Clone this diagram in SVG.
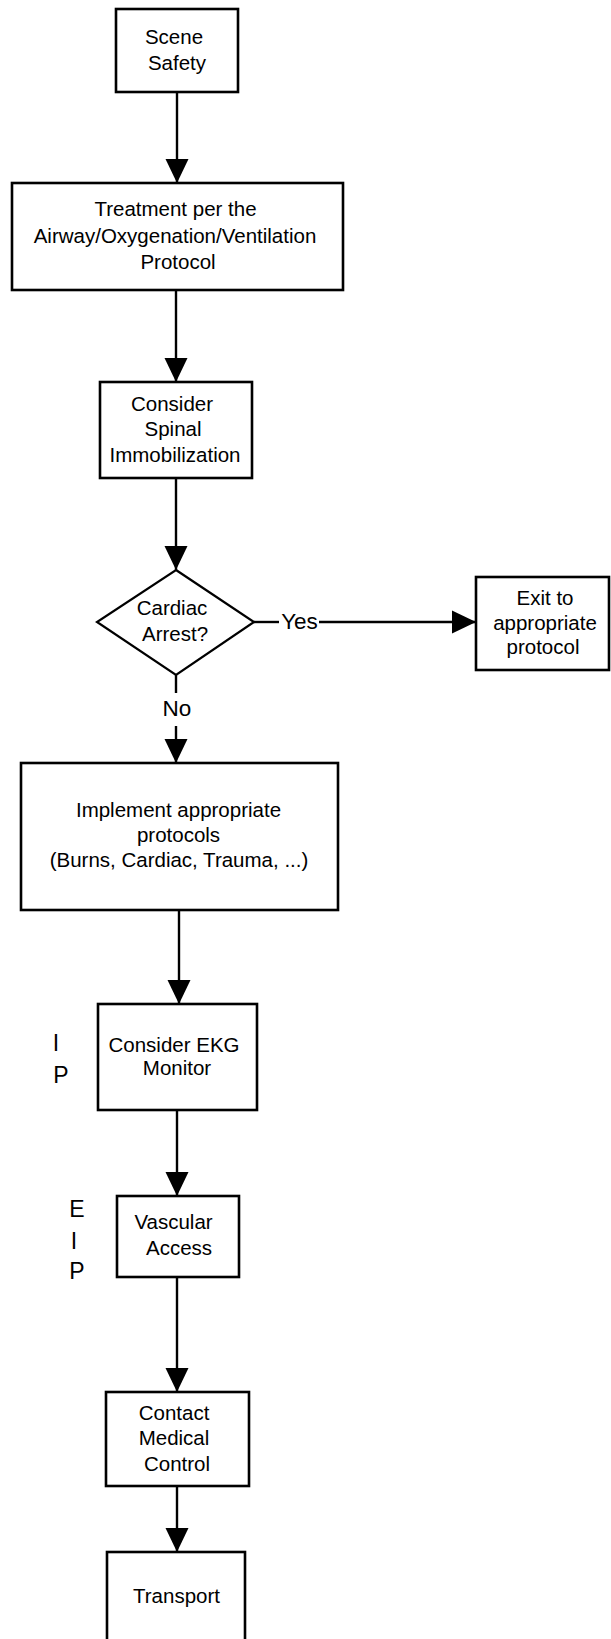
<svg xmlns="http://www.w3.org/2000/svg" width="611" height="1639" viewBox="0 0 611 1639">
  <style>
    .box { fill: #fff; stroke: #000; stroke-width: 2.6; }
    .dia { fill: #fff; stroke: #000; stroke-width: 2.2; }
    .lbl { font-family: "Liberation Sans", Arial, sans-serif; font-size: 20.5px; fill: #000; text-anchor: middle; }
    .tag { font-family: "Liberation Sans", Arial, sans-serif; font-size: 22.5px; fill: #000; text-anchor: middle; }
    .side { font-family: "Liberation Sans", Arial, sans-serif; font-size: 23px; fill: #000; text-anchor: middle; }
    .wire { fill: none; stroke: #000; stroke-width: 2.4; }
  </style>
  <defs>
    <marker id="arrow" viewBox="0 0 24 24" refX="24" refY="12" markerWidth="24" markerHeight="24" markerUnits="userSpaceOnUse" orient="auto">
      <path d="M0,0.5 L24,12 L0,23.5 z" fill="#000"/>
    </marker>
  </defs>
  <rect width="611" height="1639" fill="#fff"/>

  <!-- connectors -->
  <g id="connectors">
    <path class="wire" d="M177,92 V183" marker-end="url(#arrow)"/>
    <path class="wire" d="M176,290 V382" marker-end="url(#arrow)"/>
    <path class="wire" d="M176,478 V570" marker-end="url(#arrow)"/>
    <path class="wire" d="M254,622 H279"/>
    <path class="wire" d="M319,622 H476" marker-end="url(#arrow)"/>
    <text class="tag" x="299.5" y="628.5">Yes</text>
    <path class="wire" d="M176,675 V693"/>
    <path class="wire" d="M176,726 V763" marker-end="url(#arrow)"/>
    <text class="tag" x="177" y="716">No</text>
    <path class="wire" d="M179,910 V1004" marker-end="url(#arrow)"/>
    <path class="wire" d="M177,1110 V1196" marker-end="url(#arrow)"/>
    <path class="wire" d="M177,1277 V1392" marker-end="url(#arrow)"/>
    <path class="wire" d="M177,1486 V1552" marker-end="url(#arrow)"/>
  </g>

  <g id="scene-safety">
    <rect class="box" x="116" y="9" width="122" height="83"/>
    <text class="lbl" x="174" y="44">Scene</text>
    <text class="lbl" x="177" y="70">Safety</text>
  </g>

  <g id="airway-treatment">
    <rect class="box" x="12" y="183" width="331" height="107"/>
    <text class="lbl" x="175.5" y="216">Treatment per the</text>
    <text class="lbl" x="175" y="243">Airway/Oxygenation/Ventilation</text>
    <text class="lbl" x="178" y="269">Protocol</text>
  </g>

  <g id="spinal">
    <rect class="box" x="100" y="382" width="152" height="96"/>
    <text class="lbl" x="172" y="411">Consider</text>
    <text class="lbl" x="173" y="436">Spinal</text>
    <text class="lbl" x="175" y="462">Immobilization</text>
  </g>

  <g id="cardiac-arrest">
    <polygon class="dia" points="176,570 254,622 176,675 97,622"/>
    <text class="lbl" x="172" y="615">Cardiac</text>
    <text class="lbl" x="175" y="641">Arrest?</text>
  </g>

  <g id="exit-protocol">
    <rect class="box" x="476" y="577" width="133" height="93"/>
    <text class="lbl" x="545" y="605">Exit to</text>
    <text class="lbl" x="545" y="630">appropriate</text>
    <text class="lbl" x="543" y="654">protocol</text>
  </g>

  <g id="implement-protocols">
    <rect class="box" x="21" y="763" width="317" height="147"/>
    <text class="lbl" x="178.5" y="817">Implement appropriate</text>
    <text class="lbl" x="178.5" y="842">protocols</text>
    <text class="lbl" x="179" y="867">(Burns, Cardiac, Trauma, ...)</text>
  </g>

  <g id="ekg-monitor">
    <rect class="box" x="98" y="1004" width="159" height="106"/>
    <text class="lbl" x="174" y="1052">Consider EKG</text>
    <text class="lbl" x="177" y="1075">Monitor</text>
    <text class="side" x="56" y="1051">I</text>
    <text class="side" x="61" y="1083">P</text>
  </g>

  <g id="vascular-access">
    <rect class="box" x="117" y="1196" width="122" height="81"/>
    <text class="lbl" x="173.5" y="1229">Vascular</text>
    <text class="lbl" x="179" y="1255">Access</text>
    <text class="side" x="77" y="1217">E</text>
    <text class="side" x="74" y="1249">I</text>
    <text class="side" x="77" y="1279">P</text>
  </g>

  <g id="medical-control">
    <rect class="box" x="106" y="1392" width="143" height="94"/>
    <text class="lbl" x="174" y="1420">Contact</text>
    <text class="lbl" x="174" y="1445">Medical</text>
    <text class="lbl" x="177" y="1471">Control</text>
  </g>

  <g id="transport">
    <rect class="box" x="107" y="1552" width="138" height="110"/>
    <text class="lbl" x="176.5" y="1603">Transport</text>
  </g>
</svg>
